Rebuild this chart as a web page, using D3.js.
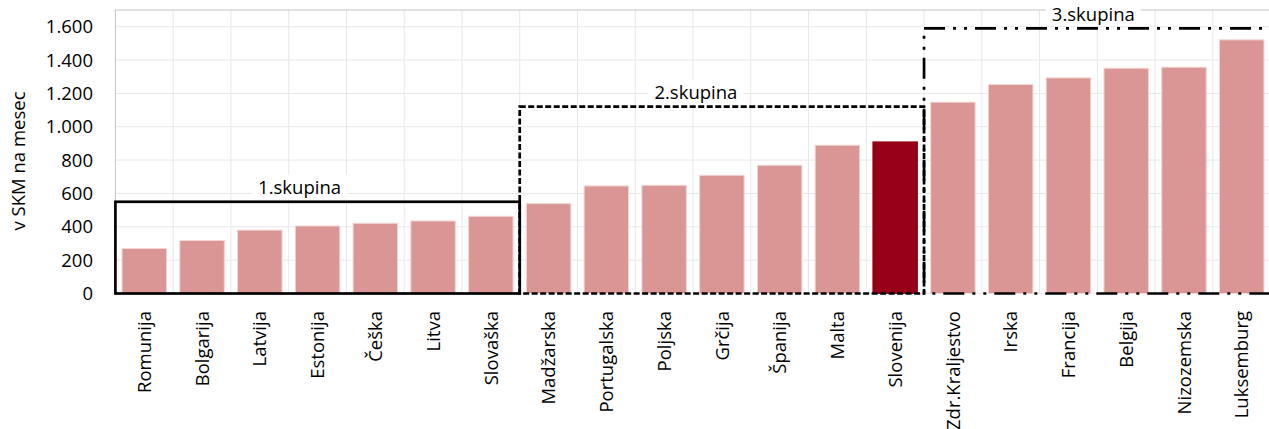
<!DOCTYPE html>
<html lang="sl">
<head>
<meta charset="UTF-8">
<title>v SKM na mesec</title>
<script src="https://d3js.org/d3.v7.min.js"></script>
<style>
    html, body { margin: 0; padding: 0; background: #fff; }
    svg { display: block; font-family: "Open Sans", sans-serif; }
</style>
</head>
<body>
<svg id="chart" width="1269" height="429"></svg>
<script>
    // podatki
    let countries = ["Romunija", "Bolgarija", "Latvija", "Estonija", "Češka", "Litva", "Slovaška",
        "Madžarska", "Portugalska", "Poljska", "Grčija", "Španija", "Malta", "Slovenija",
        "Zdr.Kraljestvo", "Irska", "Francija", "Belgija", "Nizozemska", "Luksemburg"];
    let values = [270, 318, 380, 405, 421, 435, 463,
        539, 645, 649, 709, 769, 889, 909,
        1147, 1253, 1293, 1351, 1357, 1521];
    let highlight = ["Slovenija"];
    let groupNames = ["1.skupina", "2.skupina", "3.skupina"];
    let groupFirst = ["Romunija", "Madžarska", "Zdr.Kraljestvo"];
    let groupLast = ["Slovaška", "Slovenija", "Luksemburg"];
    let groupTop = [550, 1120, 1590];
    let yTicks = [0, 200, 400, 600, 800, 1000, 1200, 1400, 1600];

    let svg = d3.select("#chart");
    let plotLeft = 115.4, plotRight = 1270.6, plotTop = 10, plotBottom = 293.5;
    let fontSize = 18.5;

    let x = d3.scaleBand().domain(countries).range([plotLeft, plotRight])
        .paddingInner(0.23).paddingOuter(0.115);
    let y = d3.scaleLinear().domain([0, 1700]).range([plotBottom, plotTop]);

    let fmt = d3.formatLocale({ decimal: ",", thousands: ".", grouping: [3], currency: ["", "€"] }).format(",");

    // mreža
    let grid = svg.append("g");
    grid.selectAll("line.h")
        .data(yTicks)
        .enter()
        .append("line")
        .attr("x1", plotLeft).attr("x2", plotRight)
        .attr("y1", (d) => y(d)).attr("y2", (d) => y(d))
        .attr("stroke", "#e8e8e8").attr("stroke-width", 1);

    let step = x.step();
    let halfGap = step * x.paddingInner() / 2;
    grid.selectAll("line.v")
        .data(countries.slice(1))
        .enter()
        .append("line")
        .attr("x1", (d) => x(d) - halfGap).attr("x2", (d) => x(d) - halfGap)
        .attr("y1", plotTop).attr("y2", plotBottom)
        .attr("stroke", "#e8e8e8").attr("stroke-width", 1);

    // okvir
    svg.append("line")
        .attr("x1", plotLeft).attr("x2", plotRight).attr("y1", plotTop).attr("y2", plotTop)
        .attr("stroke", "#c4c4c4");
    svg.append("line")
        .attr("x1", plotLeft).attr("x2", plotLeft).attr("y1", plotTop).attr("y2", plotBottom)
        .attr("stroke", "#c4c4c4");

    // stolpci
    svg.selectAll("rect.bar")
        .data(countries)
        .enter()
        .append("rect")
        .attr("class", "bar")
        .attr("x", (d) => x(d))
        .attr("width", x.bandwidth())
        .attr("y", (d, i) => y(values[i]))
        .attr("height", (d, i) => y(0) - y(values[i]))
        .attr("fill", (d) => highlight.includes(d) ? "#960018" : "#d99694")
        .attr("stroke", (d) => highlight.includes(d) ? "#960018" : "#f2d6d5")
        .attr("stroke-width", 1);

    // oznake osi y
    svg.append("g")
        .selectAll("text")
        .data(yTicks)
        .enter()
        .append("text")
        .attr("x", 93)
        .attr("y", (d) => y(d))
        .attr("dy", "0.36em")
        .attr("text-anchor", "end")
        .attr("font-size", fontSize)
        .attr("fill", "#000")
        .text((d) => fmt(d));

    svg.append("text")
        .attr("transform", "translate(25,161) rotate(-90)")
        .attr("text-anchor", "middle")
        .attr("font-size", fontSize)
        .attr("fill", "#000")
        .text("v SKM na mesec");

    // oznake osi x
    svg.append("g")
        .selectAll("text")
        .data(countries)
        .enter()
        .append("text")
        .attr("transform", (d) => `translate(${x(d) + x.bandwidth() / 2},311) rotate(-90)`)
        .attr("dy", "0.36em")
        .attr("text-anchor", "end")
        .attr("font-size", fontSize)
        .attr("fill", "#000")
        .text((d) => d);

    // skupine
    let dashes = ["none", "6,2.5", "21,8,3,8,3,8"];
    let labelShift = [-18, -26, -4];
    groupNames.forEach((name, i) => {
        let x0 = i === 0 ? plotLeft : x(groupFirst[i]) - halfGap;
        let x1 = i === groupNames.length - 1 ? plotRight : x(groupLast[i]) + x.bandwidth() + halfGap;
        let yt = y(groupTop[i]);

        svg.append("rect")
            .attr("x", x0).attr("y", yt)
            .attr("width", x1 - x0).attr("height", plotBottom - yt)
            .attr("fill", "none")
            .attr("stroke", "#000")
            .attr("stroke-width", 2.7)
            .attr("stroke-dasharray", dashes[i]);

        let cx = (x0 + x1) / 2 + labelShift[i];
        let label = svg.append("text")
            .attr("x", cx)
            .attr("y", yt - 14)
            .attr("dy", "0.36em")
            .attr("text-anchor", "middle")
            .attr("font-size", fontSize)
            .attr("fill", "#000")
            .text(name);
        let bb = label.node().getBBox();
        svg.insert("rect", () => label.node())
            .attr("x", bb.x - 6).attr("y", bb.y)
            .attr("width", bb.width + 12).attr("height", bb.height)
            .attr("fill", "#fff");
    });
</script>
</body>
</html>
